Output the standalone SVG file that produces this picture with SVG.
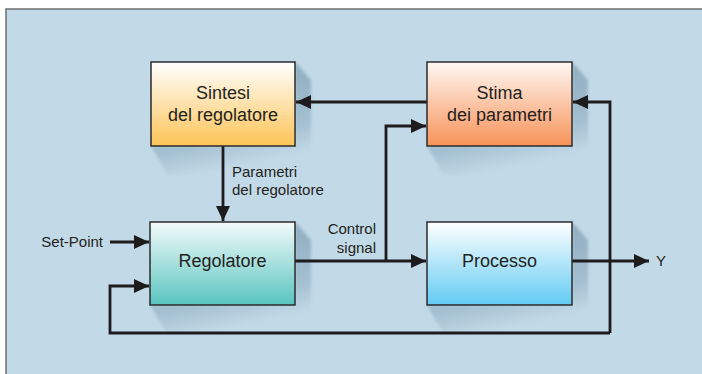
<svg xmlns="http://www.w3.org/2000/svg" width="702" height="374" viewBox="0 0 702 374">
  <style>
    .box { stroke: #2b2b2b; stroke-width: 1.5; }
    .lbl { font-family: "Liberation Sans", Arial, sans-serif; font-size: 18px; fill: #231f20; text-anchor: middle; }
    .sm { font-family: "Liberation Sans", Arial, sans-serif; font-size: 15px; fill: #231f20; }
    .wire { fill: none; stroke: #1e1b1c; stroke-width: 2.8; }
    .shadow { fill: url(#gShadow); filter: url(#soft); }
  </style>
  <defs>
    <linearGradient id="gSintesi" x1="0" y1="0" x2="0" y2="1">
      <stop offset="0" stop-color="#ffffff"/>
      <stop offset="1" stop-color="#fdc457"/>
    </linearGradient>
    <linearGradient id="gStima" x1="0" y1="0" x2="0" y2="1">
      <stop offset="0" stop-color="#fff8f4"/>
      <stop offset="1" stop-color="#f79258"/>
    </linearGradient>
    <linearGradient id="gReg" x1="0" y1="0" x2="0" y2="1">
      <stop offset="0" stop-color="#f4fbfb"/>
      <stop offset="1" stop-color="#58c4bf"/>
    </linearGradient>
    <linearGradient id="gProc" x1="0" y1="0" x2="0" y2="1">
      <stop offset="0" stop-color="#ffffff"/>
      <stop offset="1" stop-color="#62cbf3"/>
    </linearGradient>
    <linearGradient id="gShadow" x1="0" y1="0" x2="0.3" y2="1">
      <stop offset="0" stop-color="#86a6ba"/>
      <stop offset="0.75" stop-color="#a3bfd0"/>
      <stop offset="1" stop-color="#c2d9e7"/>
    </linearGradient>
    <filter id="soft" x="-10%" y="-10%" width="120%" height="120%">
      <feGaussianBlur stdDeviation="1.5"/>
    </filter>
    <marker id="arr" markerUnits="userSpaceOnUse" markerWidth="16" markerHeight="14" refX="15" refY="7" orient="auto">
      <path d="M0,0 L15,7 L0,14 Z" fill="#1e1b1c"/>
    </marker>
  </defs>

  <!-- page and panel -->
  <rect x="0" y="0" width="702" height="374" fill="#ffffff"/>
  <rect x="6" y="9" width="700" height="370" fill="#c2d9e7" stroke="#6f6f6f" stroke-width="1.5"/>

  <!-- drop shadows, each cast down-right of its box -->
  <polygon class="shadow" points="295,62 311,80 311,175 168,175 151,146 295,146"/>
  <polygon class="shadow" points="572,62 588,80 588,175 444,175 427,146 572,146"/>
  <polygon class="shadow" points="295,222 311,240 311,335 168,335 150,305 295,305"/>
  <polygon class="shadow" points="572,222 588,240 588,335 444,335 427,305 572,305"/>

  <!-- connectors -->
  <g id="connectors">
    <path class="wire" d="M427,102 H296" marker-end="url(#arr)"/>
    <path class="wire" d="M223,146 V221" marker-end="url(#arr)"/>
    <path class="wire" d="M110,242 H149" marker-end="url(#arr)"/>
    <path class="wire" d="M295,261 H426" marker-end="url(#arr)"/>
    <path class="wire" d="M386,261 V126 H426" marker-end="url(#arr)"/>
    <path class="wire" d="M572,261 H649" marker-end="url(#arr)"/>
    <path class="wire" d="M610,333 H110 V286 H149" marker-end="url(#arr)"/>
    <path class="wire" d="M610,333 V102 H573" marker-end="url(#arr)"/>
  </g>

  <!-- nodes -->
  <g id="sintesi">
    <rect class="box" x="151" y="62" width="144" height="84" fill="url(#gSintesi)"/>
    <text class="lbl" x="223" y="99">Sintesi</text>
    <text class="lbl" x="223" y="121">del regolatore</text>
  </g>
  <g id="stima">
    <rect class="box" x="427" y="62" width="145" height="84" fill="url(#gStima)"/>
    <text class="lbl" x="499.5" y="99">Stima</text>
    <text class="lbl" x="499.5" y="121">dei parametri</text>
  </g>
  <g id="regolatore">
    <rect class="box" x="150" y="222" width="145" height="83" fill="url(#gReg)"/>
    <text class="lbl" x="222.5" y="267">Regolatore</text>
  </g>
  <g id="processo">
    <rect class="box" x="427" y="222" width="145" height="83" fill="url(#gProc)"/>
    <text class="lbl" x="499.5" y="267">Processo</text>
  </g>

  <!-- signal labels -->
  <g id="labels">
    <text class="sm" x="232" y="177">Parametri</text>
    <text class="sm" x="232" y="195">del regolatore</text>
    <text class="sm" x="376" y="234" text-anchor="end">Control</text>
    <text class="sm" x="376" y="253" text-anchor="end">signal</text>
    <text class="sm" x="103" y="247" text-anchor="end">Set-Point</text>
    <text class="sm" x="656" y="266">Y</text>
  </g>
</svg>
